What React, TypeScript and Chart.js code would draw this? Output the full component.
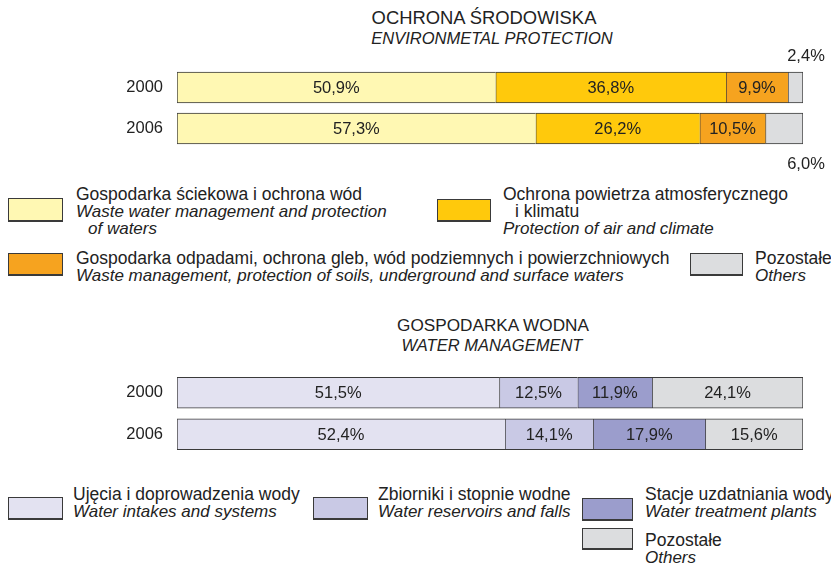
import React, { useEffect, useRef } from "react";
import { Chart, registerables } from "chart.js";

Chart.register(...registerables);

const years = ["2000", "2006"];

// Environmental protection
const envWaste = [50.9, 57.3];
const envAir = [36.8, 26.2];
const envSoil = [9.9, 10.5];
const envOther = [2.4, 6.0];
const envColors = ["#FFF8B3", "#FFC90C", "#F6A31F", "#DCDDDF"];

// Water management
const watIntakes = [51.5, 52.4];
const watReservoirs = [12.5, 14.1];
const watTreatment = [11.9, 17.9];
const watOther = [24.1, 15.6];
const watColors = ["#E3E2F1", "#C9C9E5", "#9B9DCC", "#DCDDDF"];

const FONT = "'Liberation Sans', Arial, sans-serif";
const FS = 17.5;
const FSI = 17;
const FSB = 16.5;
const TXT = "#222222";

const fmt = (v: number) => v.toFixed(1).replace(".", ",") + "%";

const labelPlugin = {
  id: "segLabels",
  afterDatasetsDraw(chart: any) {
    const ctx = chart.ctx;
    const outside: number = chart.options.plugins.segLabels?.outside ?? -1;
    ctx.save();
    ctx.font = `${FSB}px ${FONT}`;
    ctx.fillStyle = TXT;
    ctx.textAlign = "center";
    ctx.textBaseline = "middle";
    chart.data.datasets.forEach((ds: any, di: number) => {
      const meta = chart.getDatasetMeta(di);
      meta.data.forEach((bar: any, i: number) => {
        const v = ds.data[i];
        const txt = fmt(v);
        if (di === outside) {
          const x = bar.x + 3;
          const y = i === 0 ? bar.y - bar.height / 2 - 16 : bar.y + bar.height / 2 + 20;
          ctx.fillText(txt, x, y);
        } else {
          const cx = (bar.x + bar.base) / 2;
          ctx.fillText(txt, cx, bar.y + 1);
        }
      });
    });
    ctx.restore();
  },
};

function makeConfig(series: number[][], colors: string[], names: string[], outside: number, padTop: number, padBottom: number) {
  const n = series.length;
  return {
    type: "bar" as const,
    data: {
      labels: years,
      datasets: series.map((d, k) => ({
        label: names[k],
        data: d,
        backgroundColor: colors[k],
        borderColor: "#3a3a3a",
        borderWidth: { top: 1, bottom: 1, left: 1, right: k === n - 1 ? 1 : 0 },
        borderSkipped: false,
        barThickness: 31,
      })),
    },
    options: {
      indexAxis: "y" as const,
      animation: false as const,
      responsive: false,
      devicePixelRatio: 1,
      layout: { padding: { top: padTop, bottom: padBottom, right: 28, left: 0 } },
      plugins: {
        legend: { display: false },
        tooltip: { enabled: false },
        segLabels: { outside },
      },
      scales: {
        x: { stacked: true, min: 0, max: 100, display: false },
        y: {
          stacked: true,
          grid: { display: false, drawTicks: false },
          border: { display: false },
          ticks: { color: TXT, font: { family: FONT, size: FSB }, padding: 14 },
          afterFit: (s: any) => {
            s.width = 177;
            s.paddingTop = 0;
            s.paddingBottom = 0;
          },
        },
      },
    },
    plugins: [labelPlugin],
  };
}

function BarChart({ top, height, series, colors, names, outside, padTop, padBottom }: any) {
  const ref = useRef<HTMLCanvasElement>(null);
  useEffect(() => {
    if (!ref.current) return;
    const chart = new Chart(ref.current, makeConfig(series, colors, names, outside, padTop, padBottom) as any);
    return () => chart.destroy();
  }, []);
  return (
    <canvas
      ref={ref}
      width={831}
      height={height}
      style={{ position: "absolute", left: 0, top, width: 831, height }}
    />
  );
}

type Line = { t: string; i?: boolean; ind?: number };

function LegendItem({ bx, by, bw, bh, color, tx, ty, lines }: { bx: number; by: number; bw: number; bh: number; color: string; tx: number; ty: number; lines: Line[] }) {
  return (
    <>
      <div
        style={{
          position: "absolute",
          left: bx,
          top: by,
          width: bw,
          height: bh,
          boxSizing: "border-box",
          border: "1px solid #3a3a3a",
          borderBottomWidth: 2,
          background: color,
        }}
      />
      <div style={{ position: "absolute", left: tx, top: ty, whiteSpace: "nowrap" }}>
        {lines.map((l, k) => (
          <div
            key={k}
            style={{
              fontStyle: l.i ? "italic" : "normal",
              fontSize: l.i ? FSI : FS,
              paddingLeft: l.ind || 0,
            }}
          >
            {l.t}
          </div>
        ))}
      </div>
    </>
  );
}

function Title({ cx1, cx2, top, s1, s2, size1, size2 }: any) {
  return (
    <>
      <div style={{ position: "absolute", left: cx1 - 250, top, width: 500, textAlign: "center", fontSize: size1, lineHeight: "20px" }}>
        {s1}
      </div>
      <div style={{ position: "absolute", left: cx2 - 250, top: top + 20, width: 500, textAlign: "center", fontSize: size2, lineHeight: "20px", fontStyle: "italic" }}>
        {s2}
      </div>
    </>
  );
}

export default function App() {
  const envNames = [
    "Gospodarka ściekowa i ochrona wód",
    "Ochrona powietrza atmosferycznego i klimatu",
    "Gospodarka odpadami, ochrona gleb, wód podziemnych i powierzchniowych",
    "Pozostałe",
  ];
  const watNames = ["Ujęcia i doprowadzenia wody", "Zbiorniki i stopnie wodne", "Stacje uzdatniania wody", "Pozostałe"];
  return (
    <div
      style={{
        position: "absolute",
        left: 0,
        top: 0,
        width: 831,
        height: 569,
        background: "#ffffff",
        fontFamily: FONT,
        fontSize: FS,
        lineHeight: "17px",
        color: TXT,
        overflow: "hidden",
      }}
    >
      <Title cx1={484} cx2={492} top={8} s1="OCHRONA ŚRODOWISKA" s2="ENVIRONMETAL PROTECTION" size1={18.4} size2={16.5} />
      <BarChart
        top={38}
        height={137}
        series={[envWaste, envAir, envSoil, envOther]}
        colors={envColors}
        names={envNames}
        outside={3}
        padTop={29}
        padBottom={26}
      />
      <LegendItem bx={8} by={198} bw={55} bh={24} color={envColors[0]} tx={76} ty={186}
        lines={[{ t: "Gospodarka ściekowa i ochrona wód" }, { t: "Waste water management and protection", i: true }, { t: "of waters", i: true, ind: 12 }]} />
      <LegendItem bx={437} by={199} bw={54} bh={23} color={envColors[1]} tx={503} ty={186}
        lines={[{ t: "Ochrona powietrza atmosferycznego" }, { t: "i klimatu", ind: 12 }, { t: "Protection of air and climate", i: true }]} />
      <LegendItem bx={8} by={253} bw={55} bh={23} color={envColors[2]} tx={76} ty={250}
        lines={[{ t: "Gospodarka odpadami, ochrona gleb, wód podziemnych i powierzchniowych" }, { t: "Waste management, protection of soils, underground and surface waters", i: true }]} />
      <LegendItem bx={690} by={253} bw={53} bh={23} color={envColors[3]} tx={755} ty={250}
        lines={[{ t: "Pozostałe" }, { t: "Others", i: true }]} />

      <Title cx1={493} cx2={492} top={315} s1="GOSPODARKA WODNA" s2="WATER MANAGEMENT" size1={17.2} size2={16.5} />
      <BarChart
        top={360}
        height={110}
        series={[watIntakes, watReservoirs, watTreatment, watOther]}
        colors={watColors}
        names={watNames}
        outside={-1}
        padTop={12}
        padBottom={15}
      />
      <LegendItem bx={8} by={497} bw={55} bh={23} color={watColors[0]} tx={73} ty={486}
        lines={[{ t: "Ujęcia i doprowadzenia wody" }, { t: "Water intakes and systems", i: true }]} />
      <LegendItem bx={313} by={497} bw={55} bh={23} color={watColors[1]} tx={378} ty={486}
        lines={[{ t: "Zbiorniki i stopnie wodne" }, { t: "Water reservoirs and falls", i: true }]} />
      <LegendItem bx={582} by={498} bw={51} bh={23} color={watColors[2]} tx={645} ty={486}
        lines={[{ t: "Stacje uzdatniania wody" }, { t: "Water treatment plants", i: true }]} />
      <LegendItem bx={582} by={528} bw={51} bh={22} color={watColors[3]} tx={645} ty={532}
        lines={[{ t: "Pozostałe" }, { t: "Others", i: true }]} />
    </div>
  );
}
